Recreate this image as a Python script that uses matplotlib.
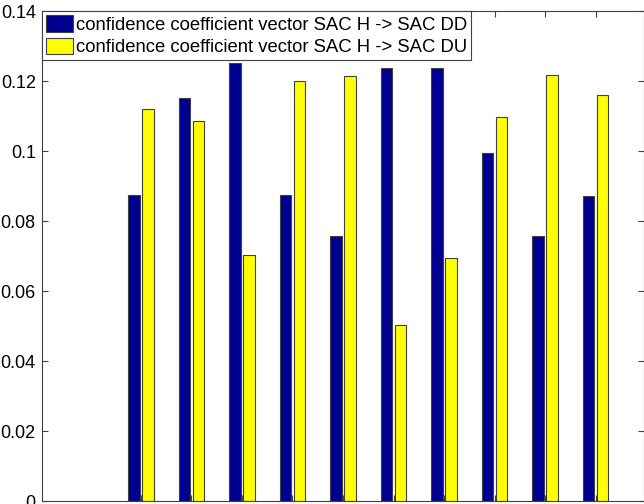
import numpy as np
import matplotlib
matplotlib.use("Agg")
import matplotlib.pyplot as plt

plt.rcParams['font.family'] = ['Liberation Sans', 'DejaVu Sans']

groups = np.arange(1, 11)
sac_dd = [0.0875, 0.1152, 0.1251, 0.0873, 0.0756, 0.1237, 0.1237, 0.0993, 0.0758, 0.0871]
sac_du = [0.1119, 0.1086, 0.0702, 0.1201, 0.1214, 0.0503, 0.0693, 0.1098, 0.1217, 0.1159]
labels = ["confidence coefficient vector SAC H -> SAC DD",
          "confidence coefficient vector SAC H -> SAC DU"]
yticks = [0, 0.02, 0.04, 0.06, 0.08, 0.1, 0.12, 0.14]
ytick_labels = ["0", "0.02", "0.04", "0.06", "0.08", "0.1", "0.12", "0.14"]

fig = plt.figure(figsize=(6.44, 5.04), dpi=100)
ax = fig.add_axes([42 / 644, 3 / 504, 602 / 644, 490 / 504])

w = 0.23
off = 0.142
ax.bar(groups - off, sac_dd, width=w, color='#000090', edgecolor='#404040',
       linewidth=0.8, label=labels[0])
ax.bar(groups + off, sac_du, width=w, color='#ffff00', edgecolor='#404040',
       linewidth=0.8, label=labels[1])

ax.set_xlim(-0.96, 10.96)
ax.set_ylim(0, 0.14)
ax.set_xticks(groups)
ax.set_yticks(yticks)
ax.set_yticklabels(ytick_labels)
ax.tick_params(direction='in', top=True, right=True, length=4, color='#404040',
               labelsize=13, labelbottom=False, pad=4.5)
for s in ax.spines.values():
    s.set_color('#404040')
    s.set_linewidth(0.8)

leg = ax.legend(loc='upper left', borderaxespad=0, fancybox=False, framealpha=1,
                edgecolor='#404040', fontsize=13.3, handlelength=1.45, handleheight=1.0,
                handletextpad=0.18, borderpad=0.22, labelspacing=0.22)
leg.get_frame().set_linewidth(0.8)

fig.savefig("out.png", dpi=100)
